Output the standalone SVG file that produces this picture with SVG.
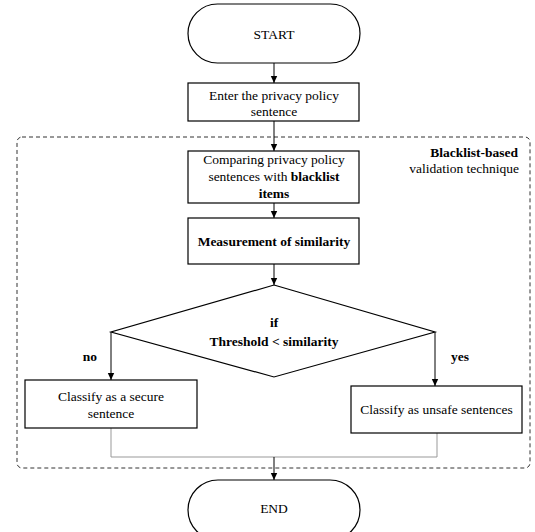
<svg xmlns="http://www.w3.org/2000/svg" width="535" height="532" viewBox="0 0 535 532">
<style>
.shape{fill:#fff;stroke:#000;stroke-width:1.2}
.t{font-family:"Liberation Serif","Times New Roman","DejaVu Serif",serif;font-size:13.5px;fill:#000;text-anchor:middle}
.b{font-weight:bold}
.conn{fill:none;stroke:#000;stroke-width:1}
.gray{fill:none;stroke:#999;stroke-width:1}
.dash{fill:none;stroke:#333;stroke-width:1;stroke-dasharray:4 3}
</style>
<defs>
<marker id="ah" markerWidth="8" markerHeight="8" refX="7" refY="4" orient="auto" markerUnits="userSpaceOnUse">
<path d="M0,0.8 L7,4 L0,7.2 Z" fill="#000"/>
</marker>
</defs>
<rect fill="#fff" width="535" height="532"/>
<g id="group-border">
<rect class="dash" x="17" y="137" width="513" height="331" rx="5"/>
<text class="t b" x="518" y="157" style="text-anchor:end">Blacklist-based</text>
<text class="t" x="519" y="173" style="text-anchor:end">validation technique</text>
</g>
<g id="connectors">
<line class="conn" x1="274" y1="63" x2="274" y2="83" marker-end="url(#ah)"/>
<line class="conn" x1="274" y1="121" x2="274" y2="151" marker-end="url(#ah)"/>
<line class="conn" x1="274" y1="203" x2="274" y2="218" marker-end="url(#ah)"/>
<line class="conn" x1="274" y1="264" x2="274" y2="285" marker-end="url(#ah)"/>
<polyline class="conn" points="111,332 111,380" marker-end="url(#ah)"/>
<polyline class="conn" points="435,332 435,386" marker-end="url(#ah)"/>
<polyline class="gray" points="111,428 111,457 437,457 437,433"/>
<line class="conn" x1="274" y1="457" x2="274" y2="480" marker-end="url(#ah)"/>
<text class="t b" x="90" y="361">no</text>
<text class="t b" x="460" y="361">yes</text>
</g>
<g id="start">
<rect class="shape" x="188" y="4" width="172" height="59" rx="29.5"/>
<text class="t" x="274" y="39">START</text>
</g>
<g id="enter">
<rect class="shape" x="188" y="83" width="171" height="38"/>
<text class="t" x="274" y="100">Enter the privacy policy</text>
<text class="t" x="274" y="116">sentence</text>
</g>
<g id="compare">
<rect class="shape" x="188" y="151" width="171" height="52"/>
<text class="t" x="274" y="164">Comparing privacy policy</text>
<text class="t" x="274" y="181">sentences with <tspan class="b">blacklist</tspan></text>
<text class="t b" x="274" y="198">items</text>
</g>
<g id="measure">
<rect class="shape" x="188" y="218" width="171" height="46"/>
<text class="t b" x="274" y="246">Measurement of similarity</text>
</g>
<g id="decision">
<polygon class="shape" points="274,285 435,332 274,377 111,332"/>
<text class="t b" x="274" y="327">if</text>
<text class="t b" x="274" y="346">Threshold &lt; similarity</text>
</g>
<g id="secure">
<rect class="shape" x="25" y="380" width="172" height="48"/>
<text class="t" x="111" y="401">Classify as a secure</text>
<text class="t" x="111" y="418">sentence</text>
</g>
<g id="unsafe">
<rect class="shape" x="351" y="386" width="171" height="47"/>
<text class="t" x="436.5" y="414">Classify as unsafe sentences</text>
</g>
<g id="end">
<rect class="shape" x="188" y="480" width="172" height="60" rx="30"/>
<text class="t" x="274" y="513">END</text>
</g>
</svg>
